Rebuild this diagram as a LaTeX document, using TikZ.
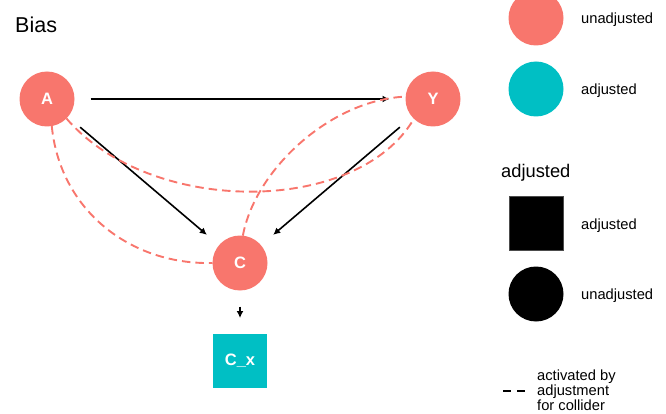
\documentclass[tikz,border=0pt]{standalone}
\usepackage{fontspec}
\setmainfont{Liberation Sans}
\usetikzlibrary{arrows.meta}
\definecolor{salmonc}{HTML}{F8766D}
\definecolor{tealc}{HTML}{00BFC4}
\tikzset{
  dagnode/.style={circle, fill=salmonc, minimum size=55pt, inner sep=0pt, outer sep=0pt,
    text=white, font=\fontsize{16.5}{16.5}\selectfont\bfseries},
  adjnode/.style={rectangle, fill=tealc, minimum size=54pt, inner sep=0pt, outer sep=0pt,
    text=white, font=\fontsize{16.5}{16.5}\selectfont\bfseries},
  causal/.style={draw=black, line width=1.6pt, -{Latex[length=7pt,width=7pt]},
    shorten >=16pt, shorten <=16pt},
  biasarc/.style={draw=salmonc, line width=1.9pt, dash pattern=on 8.5pt off 5pt},
  legtext/.style={inner sep=0pt, font=\fontsize{14.7}{15}\selectfont},
  legkey/.style={inner sep=0pt, outer sep=0pt, minimum size=55pt},
}
\begin{document}
\begin{tikzpicture}[x=1pt,y=-1pt]
\clip (0,0) rectangle (666,414);

% title
\node[anchor=base west, inner sep=0pt, font=\fontsize{21.5}{21.5}\selectfont] (title) at (15,33) {Bias};

% nodes positions
\coordinate (pA) at (47,99);
\coordinate (pY) at (433,99);
\coordinate (pC) at (240,263);
\coordinate (pCx) at (240,361);

% invisible placeholders for anchors
\node[dagnode, fill=none] (A) at (pA) {};
\node[dagnode, fill=none] (Y) at (pY) {};
\node[dagnode, fill=none] (C) at (pC) {};
\node[adjnode, fill=none] (Cx) at (pCx) {};

% causal arrows
\draw[causal] (A) -- (Y);
\draw[causal] (A) -- (C);
\draw[causal] (Y) -- (C);
\draw[causal] (C) -- (Cx);

% bias arcs
\draw[biasarc] (A.-80) .. controls (60,210) and (130,265) .. (C.west);
\draw[biasarc] (A.-45) .. controls (150,216) and (357,216) .. (Y.-134);
\draw[biasarc] (C.84) .. controls (255,170) and (330,100) .. (Y.175);

% visible nodes
\node[dagnode] (An) at (pA) {A};
\node[dagnode] (Yn) at (pY) {Y};
\node[dagnode] (Cn) at (pC) {C};
\node[adjnode] (Cxn) at (pCx) {C\_x};

% legend 1
\node[legkey, circle, fill=salmonc] (lk1) at (536,18) {};
\node[legtext, anchor=base west] (lt1) at (581,24) {unadjusted};
\node[legkey, circle, fill=tealc] (lk2) at (536,89) {};
\node[legtext, anchor=base west] (lt2) at (581,94.5) {adjusted};

% legend 2
\node[anchor=base west, inner sep=0pt, font=\fontsize{18.3}{18.3}\selectfont] (lt3) at (501,177.3) {adjusted};
\node[legkey, rectangle, fill=black, draw=black!70, line width=0.6pt, minimum size=54pt] (lk3) at (536,223.5) {};
\node[legtext, anchor=base west] (lt4) at (581,229) {adjusted};
\node[legkey, circle, fill=black] (lk4) at (536,294) {};
\node[legtext, anchor=base west] (lt5) at (581,299.5) {unadjusted};

% legend 3
\coordinate (d1) at (503,391);
\coordinate (d2) at (525,391);
\draw[line width=2pt, dash pattern=on 8pt off 6pt] (d1) -- (d2);
\node[legtext, anchor=west, align=left] (lt6) at (537,390.5) {activated by\\adjustment\\for collider};
\end{tikzpicture}
\end{document}
